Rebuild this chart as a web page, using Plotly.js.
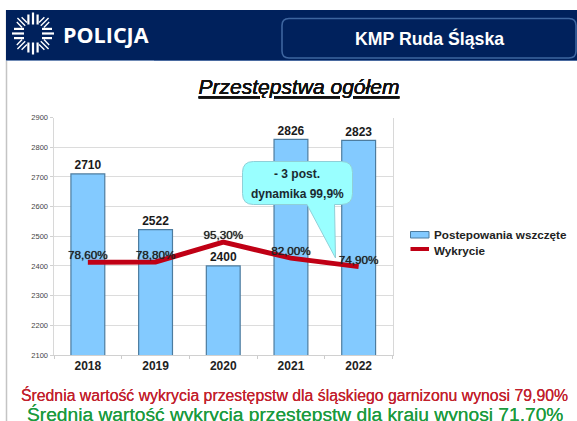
<!DOCTYPE html>
<html><head><meta charset="utf-8">
<script src="https://cdn.plot.ly/plotly-3.0.1.min.js"></script>
<style>html,body{margin:0;padding:0;background:#fff;overflow:hidden}#c{width:577px;height:421px}</style>
</head><body><div id="c"></div>
<script>
const years = ['2018','2019','2020','2021','2022'];
const cases = [2710,2522,2400,2826,2823];
const detection = [78.6,78.8,95.3,82.0,74.9];
const detectionLabels = ['78,60%','78,80%','95,30%','82,00%','74,90%'];
const yTicks = [2100,2200,2300,2400,2500,2600,2700,2800,2900];
const seriesNames = ['Postepowania wszczęte','Wykrycie'];

const W=577,H=421;
const px=x=>x/W, py=y=>1-y/H;
function rr(x0,y0,x1,y1,r,extra){
  const X=px,Y=py;
  let d=`M${X(x0+r)},${Y(y0)}L${X(x1-r)},${Y(y0)}Q${X(x1)},${Y(y0)} ${X(x1)},${Y(y0+r)}L${X(x1)},${Y(y1-r)}Q${X(x1)},${Y(y1)} ${X(x1-r)},${Y(y1)}`;
  if(extra) for(const p of extra) d+=`L${X(p[0])},${Y(p[1])}`;
  d+=`L${X(x0+r)},${Y(y1)}Q${X(x0)},${Y(y1)} ${X(x0)},${Y(y1-r)}L${X(x0)},${Y(y0+r)}Q${X(x0)},${Y(y0)} ${X(x0+r)},${Y(y0)}Z`;
  return d;
}
const pl=(x0,y0,x1,y1,color,width)=>({type:'line',xref:'paper',yref:'paper',x0:px(x0),y0:py(y0),x1:px(x1),y1:py(y1),line:{color,width},layer:'below'});
const rect=(x0,y0,x1,y1,fill)=>({type:'rect',xref:'paper',yref:'paper',x0:px(x0),y0:py(y0),x1:px(x1),y1:py(y1),fillcolor:fill,line:{width:0},layer:'below'});

const shapes=[
  pl(6.5,10,6.5,421,'#c4c4c4',1.5),
  rect(6,10,577,60,'#00215c'),
  pl(6,60.5,154,60.5,'#6f8ab5',1),
  pl(154,60.5,577,60.5,'#4a6aa0',1),
  {type:'path',xref:'paper',yref:'paper',path:rr(282,18.5,576,58,7),fillcolor:'rgba(0,0,0,0)',line:{color:'#3d659f',width:1.6},layer:'below'},
  {type:'path',xref:'paper',yref:'paper',path:rr(242.5,161.5,352.5,204.5,11,[[334.5,204.5],[335.5,258],[307,204.5]]),fillcolor:'#99ffff',line:{color:'#8fd0d8',width:1},layer:'above'},
  {type:'rect',xref:'paper',yref:'paper',x0:px(410.5),x1:px(429),y0:py(231.5),y1:py(238),fillcolor:'#83caff',line:{color:'#4d7c9f',width:1},layer:'above'},
  rect(410.5,247,429,251,'#c00015')
];
// police emblem
const cx=33,cy=33.5;
for(let k=0;k<8;k++){
  const a=k*Math.PI/4, ux=Math.cos(a), uy=Math.sin(a), nx=-uy, ny=ux;
  const diag=k%2===1;
  const offs=diag?[-3.4,0,3.4]:[-4.6,0,4.6];
  offs.forEach((o,i)=>{
    const r0=i===1?(diag?11:9):(diag?12:9), r1=i===1?(diag?22:21):(diag?19.5:19);
    shapes.push({type:'line',xref:'paper',yref:'paper',
      x0:px(cx+ux*r0+nx*o),y0:py(cy+uy*r0+ny*o),x1:px(cx+ux*r1+nx*o),y1:py(cy+uy*r1+ny*o),
      line:{color:'#ffffff',width:diag?1.4:2.2},layer:'below'});
  });
}
const ann=(text,x,y,size,color,bold,family,shadow)=>({xref:'paper',yref:'paper',x:px(x),y:py(y),xanchor:'center',yanchor:'middle',showarrow:false,
  text:bold?`<b>${text}</b>`:text,font:{family:family||'Liberation Sans',size,color,shadow:shadow||'none'}});
const annL=(text,x,y,size,color)=>Object.assign(ann(text,x,y,size,color,true),{xanchor:'left'});
const annotations=[
  ann('POLICJA',105.5,34,21.5,'#ffffff',true,'Open Sans'),
  ann('KMP Ruda Śląska',429,39,17.7,'#ffffff',true),
  ann('- 3 post.',297,174,12,'#1a2a30',true),
  ann('dynamika 99,9%',297,194,12,'#1a2a30',true),
  annL(seriesNames[0],431.5,234.5,11.7,'#222222'),
  annL(seriesNames[1],431.5,250,11.7,'#222222'),
  ann('Średnia wartość wykrycia przestępstw dla śląskiego garnizonu wynosi 79,90%',294.5,395,15.8,'#c1202c',false,null,'0 0 0.6px #c1202c'),
  ann('Średnia wartość wykrycia przestępstw dla kraju wynosi 71,70%',295,414,19.2,'#1c9a3e',false,null,'0 0 0.6px #1c9a3e')
];
const data=[
  {type:'bar',x:years,y:cases,name:seriesNames[0],
   marker:{color:'#83caff',line:{color:'#4d7c9f',width:1.2}},hoverinfo:'x+y'},
  {type:'scatter',mode:'markers+text',x:years,y:cases,text:cases.map(String),textposition:'top center',cliponaxis:false,showlegend:false,
   textfont:{family:'Liberation Sans',size:12,color:'#1a1a1a',weight:'bold'},
   marker:{size:1,opacity:0},hoverinfo:'skip'},
  {type:'scatter',mode:'lines+text',x:years,y:detection,yaxis:'y2',name:seriesNames[1],text:detectionLabels,textposition:'top center',
   textfont:{family:'Liberation Sans',size:11.7,color:'#222222',shadow:'0 0 0.7px #222222'},
   line:{color:'#c00015',width:5},hoverinfo:'x+y'}
];
const layout={
  width:W,height:H,margin:{l:0,r:0,t:0,b:0},paper_bgcolor:'#fff',plot_bgcolor:'#fff',showlegend:false,bargap:0.5,
  title:{text:'<i><u>Przestępstwa ogółem</u></i>',font:{family:'Liberation Sans',size:21,color:'#111',shadow:'0 0 0.5px #111'},x:299/W,xanchor:'center',y:py(87),yanchor:'middle',xref:'paper',yref:'paper'},
  xaxis:{domain:[px(54),px(392.5)],type:'category',tickson:'boundaries',ticks:'outside',ticklen:3,tickcolor:'#cccccc',showline:true,linecolor:'#d0d0d0',linewidth:1,
    showgrid:false,tickfont:{family:'Liberation Sans',size:12,color:'#222',weight:'bold'},anchor:'y'},
  yaxis:{domain:[py(355),py(117.5)],range:[2100,2900],tickvals:yTicks,ticks:'outside',ticklen:3,tickcolor:'#d0d0d0',showline:true,mirror:true,linecolor:'#d8d8d8',linewidth:1.5,
    gridcolor:'#dcdcdc',gridwidth:1,zeroline:false,tickfont:{family:'Liberation Sans',size:7.5,color:'#444'}},
  yaxis2:{overlaying:'y',side:'right',range:[1.1,199.4],visible:false,showgrid:false},
  shapes,annotations
};
Plotly.newPlot('c',data,layout,{staticPlot:true,displayModeBar:false});
</script></body></html>
